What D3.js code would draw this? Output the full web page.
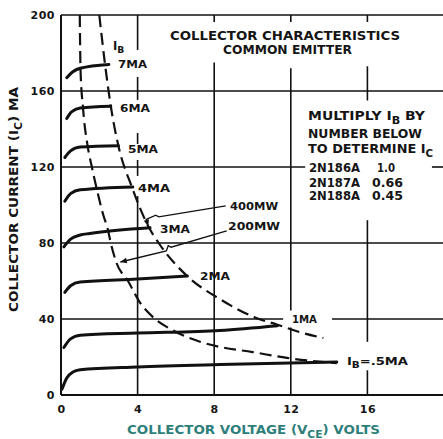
<!DOCTYPE html>
<html>
<head>
<meta charset="utf-8">
<script src="https://cdn.jsdelivr.net/npm/d3@7"></script>
<style>
  html, body { margin: 0; padding: 0; background: #fff; }
  svg { display: block; }
  text { font-family: "DejaVu Sans", sans-serif; font-weight: bold; fill: #151515; }
</style>
</head>
<body>
<div id="chart"></div>
<script>
// axis ticks
const xTicks = [0, 4, 8, 12, 16];
const yTicks = [0, 40, 80, 120, 160, 200];

// collector curves, [VCE volts, IC mA]
const ib7 = [[0.3, 167], [0.6, 170], [1.0, 172], [2.5, 174]];
const ib6 = [[0.3, 145.5], [0.55, 149], [1.0, 151], [2.6, 152]];
const ib5 = [[0.2, 125], [0.5, 128.5], [1.0, 130.5], [3.0, 131.2]];
const ib4 = [[0.2, 102], [0.5, 106], [1.0, 108], [3.75, 109.5]];
const ib3 = [[0.15, 78], [0.5, 82], [1.0, 84.2], [1.5, 85], [4.65, 88]];
const ib2 = [[0.2, 54], [0.5, 57.5], [1.0, 59.5], [4.0, 61], [6.6, 62.6]];
const ib1 = [[0.15, 25], [0.5, 29.5], [1.0, 31.5], [4.0, 32.6], [8.3, 34], [11.3, 36.5]];
const ib05 = [[0.05, 3], [0.3, 9], [0.6, 12], [1.0, 13.3], [4.0, 14.7], [8.3, 16], [14.4, 17.4]];
const ibNames = ['7MA', '6MA', '5MA', '4MA', '3MA', '2MA', '1MA', '.5MA'];

// max dissipation curves (dashed)
const diss400 = [[2.0, 200], [2.3, 174], [2.6, 152], [3.0, 131], [3.7, 109.5], [4.6, 88], [5.1, 80],
  [6.6, 62.5], [8.3, 50.5], [10.2, 40.5], [11.3, 37], [12.5, 33], [13.7, 30]];
const diss200 = [[0.98, 200], [1.02, 171], [1.15, 151], [1.4, 130.5], [1.6, 120.5], [1.9, 107],
  [2.2, 95], [2.45, 87], [2.6, 80], [2.9, 69.5], [3.5, 60], [4.1, 49], [4.8, 41], [5.85, 34],
  [7.26, 28], [8.3, 25.3], [10, 22.6], [11.8, 19.5], [14.4, 16.8]];
const dissNames = ['400MW', '200MW'];

// multiplier table
const types = ['2N186A', '2N187A', '2N188A'];
const multipliers = ['1.0', '0.66', '0.45'];

const width = 443, height = 439;
const svg = d3.select('#chart').append('svg')
  .attr('width', width)
  .attr('height', height);

const x = d3.scaleLinear().domain([0, 20]).range([61, 444]);
const y = d3.scaleLinear().domain([0, 200]).range([395, 15]);

function addText(parent, px, py, parts, opt = {}) {
  const size = opt.size || 11;
  const t = parent.append('text')
    .attr('x', px).attr('y', py)
    .attr('font-size', size);
  if (opt.len) t.attr('textLength', opt.len).attr('lengthAdjust', 'spacingAndGlyphs');
  if (opt.fill) t.style('fill', opt.fill);
  if (opt.transform) t.attr('transform', opt.transform);
  let sub = false;
  parts.forEach(p => {
    const isSub = Array.isArray(p);
    const ts = t.append('tspan').text(isSub ? p[0] : p);
    if (isSub) {
      ts.attr('dy', size * 0.3).attr('font-size', size * 0.8);
      sub = true;
    } else if (sub) {
      ts.attr('dy', -size * 0.3);
      sub = false;
    }
  });
  return t;
}

// grid - vertical lines, segments in mA (gaps left for labels)
const grid = svg.append('g').attr('stroke', '#111').attr('stroke-width', 1.6);
const vSegs = {
  4: [[200, 181.6], [167.4, 155.3], [137.9, 132.1], [123.7, 115.3], [104.7, 0]],
  8: [[200, 196.3], [175, 0]],
  12: [[200, 196.3], [172, 44.5], [35.5, 0]],
  16: [[200, 196.3], [173, 155], [92, 28], [13, 0]]
};
xTicks.slice(1).forEach(v => {
  vSegs[v].forEach(s => {
    grid.append('line')
      .attr('x1', x(v)).attr('x2', x(v))
      .attr('y1', y(s[0])).attr('y2', y(s[1]));
  });
});
// horizontal lines, segments in volts
const hSegs = {
  40: [[0, 11.6], [14.15, 20]],
  80: [[0, 20]],
  120: [[0, 12.75], [19.37, 20]],
  160: [[0, 20]],
  200: [[0, 20]]
};
yTicks.slice(1).forEach(v => {
  hSegs[v].forEach(s => {
    grid.append('line')
      .attr('x1', x(s[0])).attr('x2', x(s[1]))
      .attr('y1', y(v)).attr('y2', y(v));
  });
});
// axes lines
svg.append('line').attr('x1', x(0)).attr('x2', x(20)).attr('y1', y(0)).attr('y2', y(0))
  .attr('stroke', '#111').attr('stroke-width', 2);
svg.append('line').attr('x1', x(0)).attr('x2', x(0)).attr('y1', y(0)).attr('y2', y(200))
  .attr('stroke', '#111').attr('stroke-width', 2);

// tick labels
const xAxis = svg.append('g')
  .attr('transform', `translate(0,${y(0)})`)
  .call(d3.axisBottom(x).tickValues(xTicks).tickSize(0).tickPadding(10));
const yAxis = svg.append('g')
  .attr('transform', `translate(${x(0)},0)`)
  .call(d3.axisLeft(y).tickValues(yTicks).tickSize(0).tickPadding(6));
[xAxis, yAxis].forEach(a => {
  a.select('.domain').remove();
  a.selectAll('text')
    .attr('font-family', null)
    .attr('font-size', 11)
    .style('fill', '#151515')
    .style('letter-spacing', '0.5px');
});

// dashed dissipation curves
const line = d3.line().x(d => x(d[0])).y(d => y(d[1])).curve(d3.curveMonotoneX);
[diss400, diss200].forEach(d => {
  svg.append('path')
    .attr('d', line(d))
    .attr('fill', 'none')
    .attr('stroke', '#111')
    .attr('stroke-width', 2.2)
    .attr('stroke-dasharray', '12,6');
});

// collector curves
const curves = [ib7, ib6, ib5, ib4, ib3, ib2, ib1, ib05];
svg.append('g').selectAll('path')
  .data(curves)
  .join('path')
  .attr('d', d => line(d))
  .attr('fill', 'none')
  .attr('stroke', '#111')
  .attr('stroke-width', 3)
  .attr('stroke-linecap', 'round');

// curve labels
const labelPos = [[2.98, 172.1, 29], [3.08, 148.9, 30], [3.5, 127.4, 30], [4.02, 106.8, 32],
  [5.17, 85.3, 30], [7.26, 60.5, 30], [12.06, 37.9, 25]];
ibNames.slice(0, 7).forEach((n, i) => {
  const p = labelPos[i];
  addText(svg, x(p[0]), y(p[1]), [n], { size: 11, len: p[2] });
});
addText(svg, x(14.93), y(15.8), ['I', ['B'], '=' + ibNames[7]], { size: 11, len: 61 });
addText(svg, x(2.72), y(181.6), ['I', ['B']], { size: 11.5 });

// pointers to dissipation curves
const thin = d3.line().x(d => x(d[0])).y(d => y(d[1]));
const ptr400 = [[8.6, 99.5], [5.1, 93.8], [4.95, 94.6], [4.45, 92.4], [4.55, 88.8]];
const ptr200 = [[8.65, 86.4], [5.75, 77.8], [5.6, 78.6], [5.5, 75.8], [3.1, 70]];
[ptr400, ptr200].forEach(p => {
  svg.append('path').attr('d', thin(p))
    .attr('fill', 'none').attr('stroke', '#111').attr('stroke-width', 1.3);
});
// arrow heads
function head(p, q) {
  const x0 = x(p[0]), y0 = y(p[1]), x1 = x(q[0]), y1 = y(q[1]);
  const a = Math.atan2(y1 - y0, x1 - x0);
  const L = 7, w = 0.4;
  svg.append('path')
    .attr('d', `M${x1},${y1}L${x1 - L * Math.cos(a - w)},${y1 - L * Math.sin(a - w)}L${x1 - L * Math.cos(a + w)},${y1 - L * Math.sin(a + w)}Z`)
    .attr('fill', '#111');
}
head(ptr200[3], ptr200[4]);
head(ptr400[3], ptr400[4]);
addText(svg, x(8.83), y(97.4), [dissNames[0]], { size: 11, len: 48 });
addText(svg, x(8.72), y(86.8), [dissNames[1]], { size: 11, len: 52 });

// title
addText(svg, 170, 40, ['COLLECTOR CHARACTERISTICS'], { size: 11.5, len: 230 });
addText(svg, 223, 54, ['COMMON EMITTER'], { size: 11.5, len: 129 });

// multiplier block
addText(svg, 308, 120, ['MULTIPLY I', ['B'], ' BY'], { size: 12, len: 117 });
addText(svg, 308, 138, ['NUMBER BELOW'], { size: 12, len: 114 });
addText(svg, 308, 153, ['TO DETERMINE I', ['C']], { size: 12, len: 125 });
const rowY = [172, 187, 200];
const valX = [377, 372, 372];
types.forEach((t, i) => {
  addText(svg, 309, rowY[i], [t], { size: 12, len: 51 });
  addText(svg, valX[i], rowY[i], [multipliers[i]], { size: 12, len: i === 0 ? 18 : 31 });
});

// axis titles
addText(svg, 127, 434, ['COLLECTOR VOLTAGE (V', ['CE'], ') VOLTS'], { size: 12, len: 253, fill: '#2e7f7b' });
addText(svg, 0, 0, ['COLLECTOR CURRENT (I', ['C'], ') MA'], { size: 12, len: 225, transform: 'translate(18,312) rotate(-90)' });
</script>
</body>
</html>
